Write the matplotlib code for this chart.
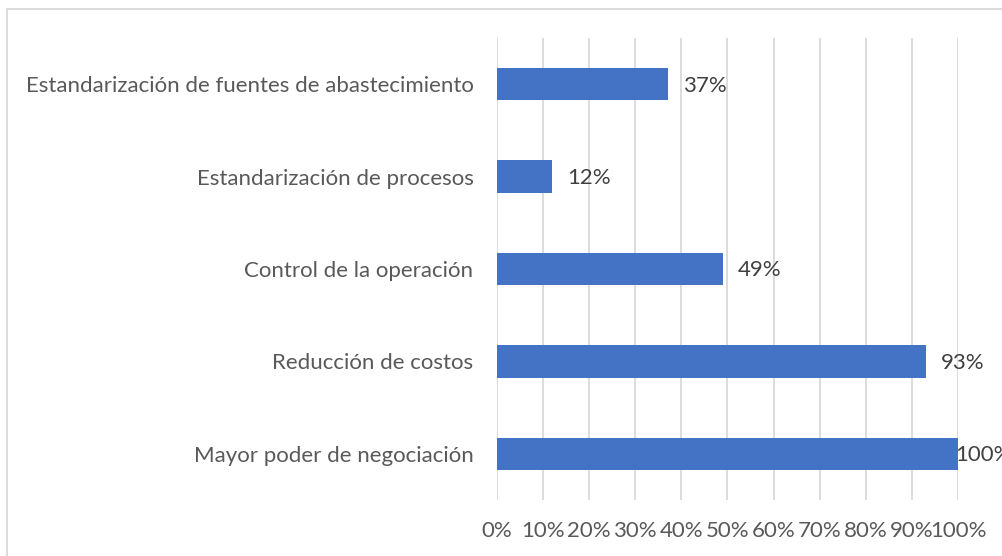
import matplotlib
matplotlib.use("Agg")
import matplotlib.pyplot as plt
from matplotlib.patches import Rectangle

categories = [
    "Mayor poder de negociación",
    "Reducción de costos",
    "Control de la operación",
    "Estandarización de procesos",
    "Estandarización de fuentes de abastecimiento",
]
values = [100, 93, 49, 12, 37]
xticks = list(range(0, 101, 10))
xtick_labels = [f"{t}%" for t in xticks]

W, H = 1003, 556
fig = plt.figure(figsize=(W / 100, H / 100), dpi=100)
plt.rcParams['font.family'] = ['Lato', 'DejaVu Sans']

# outer chart border (left and top visible)
fig.patches.append(Rectangle((7 / W, -0.1), 1.2, 1 - 9 / H + 0.1, transform=fig.transFigure,
                             fill=False, edgecolor="#D9D9D9", linewidth=1.3))

ax = fig.add_axes([497 / W, 1 - 500 / H, (958 - 497) / W, (500 - 38) / H])
ypos = list(range(len(categories)))
ax.barh(ypos, values, height=0.35, color="#4472C4", zorder=3)
ax.set_xlim(0, 100)
ax.set_ylim(-0.5, len(categories) - 0.5)
ax.set_xticks(xticks)
ax.set_xticklabels(xtick_labels)
ax.set_yticks(ypos)
ax.set_yticklabels(categories)
ax.grid(axis="x", color="#D9D9D9", linewidth=1.3, zorder=0)
for s in ax.spines.values():
    s.set_visible(False)
ax.tick_params(axis="both", length=0, labelsize=16, labelcolor="#595959")
ax.tick_params(axis="x", pad=15)
ax.tick_params(axis="y", pad=17)

for y, v in zip(ypos, values):
    off = 11 if v < 100 else -2
    ax.annotate(f"{v}%", xy=(v, y), xytext=(off, -1), textcoords="offset points",
                ha="left", va="center", fontsize=16, color="#404040", zorder=4,
                annotation_clip=False)

fig.savefig("out.png", dpi=100)
